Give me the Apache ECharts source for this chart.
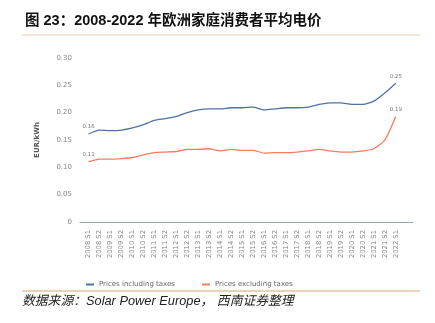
<!DOCTYPE html>
<html>
<head>
<meta charset="utf-8">
<script src="https://cdn.jsdelivr.net/npm/echarts@6/dist/echarts.min.js"></script>
<style>
html,body{margin:0;padding:0;background:#fff;}
#c{width:435px;height:323px;}
</style>
</head>
<body>
<div id="c"></div>
<script>
const categories = ["2008 S1","2008 S2","2009 S1","2009 S2","2010 S1","2010 S2","2011 S1","2011 S2","2012 S1","2012 S2","2013 S1","2013 S2","2014 S1","2014 S2","2015 S1","2015 S2","2016 S1","2016 S2","2017 S1","2017 S2","2018 S1","2018 S2","2019 S1","2019 S2","2020 S1","2020 S2","2021 S1","2021 S2","2022 S1"];
const pricesInclTaxes = [0.161,0.168,0.167,0.168,0.172,0.178,0.186,0.189,0.193,0.200,0.205,0.207,0.207,0.209,0.209,0.210,0.205,0.207,0.209,0.209,0.210,0.215,0.218,0.218,0.215,0.215,0.221,0.236,0.254];
const pricesExclTaxes = [0.110,0.115,0.115,0.116,0.118,0.123,0.127,0.128,0.129,0.133,0.133,0.134,0.130,0.133,0.131,0.131,0.126,0.127,0.127,0.128,0.130,0.133,0.130,0.128,0.128,0.130,0.134,0.150,0.193];
const yTicks = [0,0.05,0.10,0.15,0.20,0.25,0.30];
const seriesNames = ["Prices including taxes","Prices excluding taxes"];

const chart = echarts.init(document.getElementById('c'), null, {renderer:'canvas'});
const last = categories.length - 1;
function build(arr){
  return arr.map((v,i)=>({value:[i,v], label:{show: i===0 || i===last}}));
}
const latin = '"DejaVu Sans",sans-serif';
chart.setOption({
  animation:false,
  backgroundColor:'#fff',
  title:{
    text:'图 23：2008-2022 年欧洲家庭消费者平均电价',
    left:20, top:9,
    textStyle:{fontSize:14.5, fontWeight:'bold', color:'#111', fontFamily:'"Liberation Sans","Noto Sans CJK SC",sans-serif'}
  },
  graphic:[
    {type:'rect', shape:{x:22,y:34.5,width:398,height:1}, style:{fill:'#e2cda8'}},
    {type:'rect', shape:{x:22,y:290.5,width:398,height:1}, style:{fill:'#d6a868'}},
    {type:'text', left:22, top:295, style:{text:'数据来源：Solar Power Europe， 西南证券整理', fontSize:12.8, fontStyle:'italic', fill:'#222', fontFamily:'"Liberation Sans","Noto Sans CJK SC",sans-serif'}}
  ],
  legend:{
    left:81, top:276,
    itemWidth:8, itemHeight:2, itemGap:27,
    icon:'rect',
    textStyle:{fontSize:7, color:'#666', fontFamily:latin},
    data:seriesNames
  },
  grid:{left:80, right:22, top:58, bottom:101},
  xAxis:{
    type:'value',
    min:-0.78, max:29.57,
    axisLine:{show:true, lineStyle:{color:'#95a3b5', width:1}},
    axisTick:{show:false},
    splitLine:{show:false},
    axisLabel:{
      customValues: categories.map((c,i)=>i),
      formatter: v => categories[Math.round(v)] || '',
      rotate:90, margin:8, fontSize:6.8, color:'#888', fontFamily:latin
    }
  },
  yAxis:{
    type:'value', min:0, max:0.3, interval:0.05,
    name:'EUR/kWh', nameLocation:'middle', nameGap:39, nameRotate:90,
    nameTextStyle:{fontSize:7, fontWeight:'bold', color:'#555', fontFamily:latin},
    axisLine:{show:false}, axisTick:{show:false}, splitLine:{show:false},
    axisLabel:{margin:8, fontSize:7, color:'#888', fontFamily:latin,
      formatter: v => v===0 ? '0' : v.toFixed(2)}
  },
  series:[
    {name:seriesNames[0], type:'line', data:build(pricesInclTaxes), smooth:0.2, symbol:'circle', symbolSize:0, showSymbol:true,
     lineStyle:{color:'#4f72a6', width:1.3}, itemStyle:{color:'#4f72a6'},
     label:{position:'top', distance:4, fontSize:5.5, color:'#777', fontFamily:latin, formatter: p => p.value[1].toFixed(2)}},
    {name:seriesNames[1], type:'line', data:build(pricesExclTaxes), smooth:0.2, symbol:'circle', symbolSize:0, showSymbol:true,
     lineStyle:{color:'#f47d5e', width:1.3}, itemStyle:{color:'#f47d5e'},
     label:{position:'top', distance:4, fontSize:5.5, color:'#777', fontFamily:latin, formatter: p => p.value[1].toFixed(2)}}
  ]
});
</script>
</body>
</html>
